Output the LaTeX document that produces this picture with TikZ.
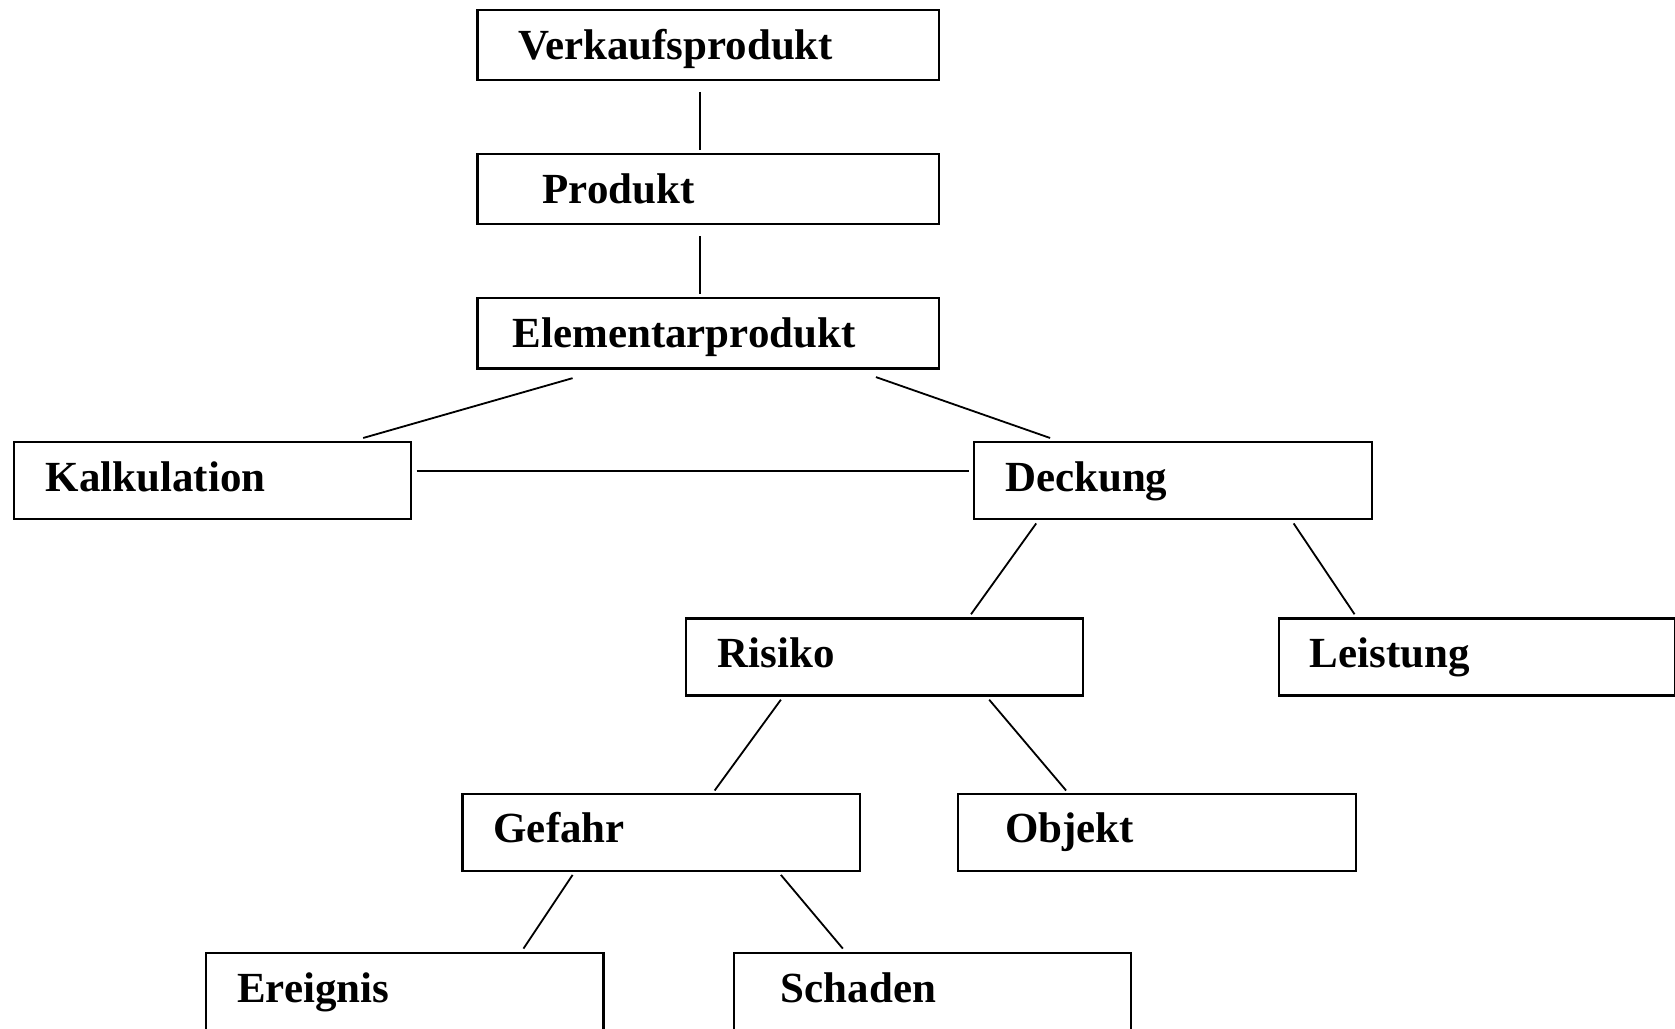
\documentclass[tikz,border=0pt]{standalone}
\usepackage{fontspec}
\setmainfont{Liberation Serif}
\usetikzlibrary{calc}
\tikzset{
  boxnode/.style={draw, line width=2pt, rectangle, anchor=north west, inner sep=0pt,
    text width=372pt, minimum height=72pt, text height=30pt, text depth=10pt,
    align=left, font=\bfseries\fontsize{40.2}{47}\selectfont,
    execute at begin node={\hspace*{#1pt}}},
  widebox/.style={text width=432pt, minimum height=66pt, text depth=3pt},
  openbox/.style={minimum height=100pt, text depth=38pt},
  link/.style={line width=1.7pt}
}
\begin{document}
\begin{tikzpicture}[x=1pt,y=-1pt]
\useasboundingbox (0,0) rectangle (1568,963);
% upper chain
\node[boxnode=38, widebox] (verk) at (446,8) {Verkaufsprodukt};
\node[boxnode=61, widebox] (prod) at (446,143) {Produkt};
\node[boxnode=33, widebox] (elem) at (446,278) {Elementarprodukt};
% second level
\node[boxnode=30] (kalk) at (12,413) {Kalkulation};
\node[boxnode=29] (deck) at (911,413) {Deckung};
% third level
\node[boxnode=30] (risk) at (641,578) {Risiko};
\node[boxnode=29, text width=371pt] (leist) at (1196,578) {Leistung};
% fourth level
\node[boxnode=29] (gef) at (432,742) {Gefahr};
\node[boxnode=44] (obj) at (896,742) {Objekt};
% bottom level
\node[boxnode=29, openbox] (ereig) at (192,891) {Ereignis};
\node[boxnode=44, openbox] (schad) at (686,891) {Schaden};
% connectors
\draw[link] ($(verk.south west)+(209,10)$) -- ($(prod.north west)+(209,-3)$);
\draw[link] ($(prod.south west)+(209,10)$) -- ($(elem.north west)+(209,-3)$);
\draw[link] ($(elem.south west)+(90,8)$) -- ($(kalk.north west)+(328,-3)$);
\draw[link] ($(elem.south west)+(374,7)$) -- ($(deck.north west)+(72,-3)$);
\draw[link] ($(kalk.north east)+(4,28)$) -- ($(deck.north west)+(-4,28)$);
\draw[link] ($(deck.south west)+(59,3)$) -- ($(risk.north west)+(268,-3)$);
\draw[link] ($(deck.south west)+(300,3)$) -- ($(leist.north west)+(72,-3)$);
\draw[link] ($(risk.south west)+(90,3)$) -- ($(gef.north west)+(237,-2)$);
\draw[link] ($(risk.south west)+(285,3)$) -- ($(obj.north west)+(102,-2)$);
\draw[link] ($(gef.south west)+(104,3)$) -- ($(ereig.north west)+(298,-3)$);
\draw[link] ($(gef.south west)+(299,3)$) -- ($(schad.north west)+(103,-3)$);
\end{tikzpicture}
\end{document}
